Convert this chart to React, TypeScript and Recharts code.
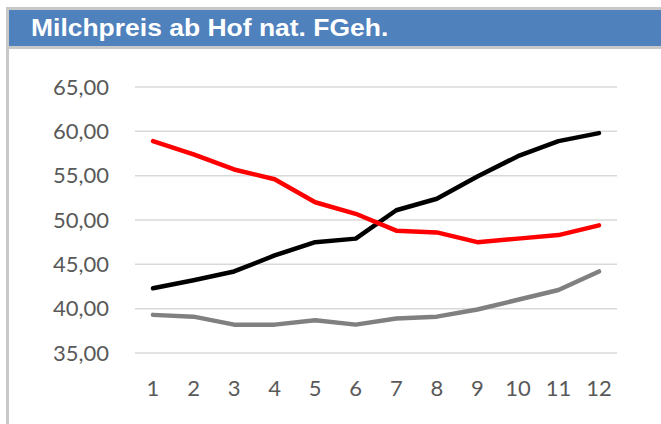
import { LineChart, Line, XAxis, YAxis, CartesianGrid } from "recharts";

const months = ["1", "2", "3", "4", "5", "6", "7", "8", "9", "10", "11", "12"];
const redSeries = [58.9, 57.4, 55.7, 54.6, 52.0, 50.7, 48.8, 48.6, 47.5, 47.9, 48.3, 49.4];
const blackSeries = [42.3, 43.2, 44.2, 46.0, 47.5, 47.9, 51.1, 52.4, 54.9, 57.2, 58.9, 59.8];
const greySeries = [39.3, 39.1, 38.2, 38.2, 38.7, 38.2, 38.9, 39.1, 39.9, 41.0, 42.1, 44.2];
const yTicks = [35, 40, 45, 50, 55, 60, 65];

const data = months.map((m, i) => ({
  month: m,
  red: redSeries[i],
  black: blackSeries[i],
  grey: greySeries[i],
}));

const fmt = (v: number) => v.toFixed(2).replace(".", ",");

export default function App() {
  return (
    <div
      style={{
        position: "fixed",
        left: 0,
        top: 0,
        width: 661,
        height: 424,
        background: "#ffffff",
        overflow: "hidden",
      }}
    >
      {/* frame + header */}
      <div
        style={{
          position: "absolute",
          left: 6,
          top: 7,
          width: 661,
          height: 424,
          borderLeft: "3px solid #c8c8c8",
          borderTop: "3px solid #c8c8c8",
        }}
      />
      <div
        style={{
          position: "absolute",
          left: 9,
          top: 10,
          width: 652,
          height: 36,
          background: "#4f81bd",
          borderBottom: "3px solid #c8c8c8",
        }}
      >
        <div
          style={{
            position: "absolute",
            left: 22,
            top: 4,
            color: "#ffffff",
            fontFamily: "'Liberation Sans', Arial, sans-serif",
            fontWeight: "bold",
            fontSize: 24.5,
            lineHeight: "28px",
            whiteSpace: "nowrap",
            transform: "scaleX(1.08)",
            transformOrigin: "left center",
          }}
        >
          Milchpreis ab Hof nat. FGeh.
        </div>
      </div>

      <div style={{ position: "absolute", left: 0, top: 0 }}>
        <LineChart
          width={661}
          height={424}
          data={data}
          margin={{ top: 87, right: 44, bottom: 0, left: 0 }}
        >
          <CartesianGrid vertical={false} stroke="#d9d9d9" strokeWidth={1.5} />
          <XAxis
            dataKey="month"
            axisLine={false}
            tickLine={false}
            tickSize={0}
            tickMargin={27}
            height={71}
            padding={{ left: 18, right: 18 }}
            interval={0}
            tick={{ fill: "#595959", fontSize: 22, fontFamily: "Lato, sans-serif" }}
          />
          <YAxis
            domain={[35, 65]}
            ticks={yTicks}
            tickFormatter={fmt}
            axisLine={false}
            tickLine={false}
            tickSize={0}
            tickMargin={26}
            width={135}
            interval={0}
            tick={{ fill: "#595959", fontSize: 22, fontFamily: "Lato, sans-serif" }}
          />
          <Line
            type="linear"
            dataKey="grey"
            stroke="#808080"
            strokeWidth={4.5}
            dot={false}
            strokeLinecap="round"
            strokeLinejoin="round"
            isAnimationActive={false}
          />
          <Line
            type="linear"
            dataKey="black"
            stroke="#000000"
            strokeWidth={4.5}
            dot={false}
            strokeLinecap="round"
            strokeLinejoin="round"
            isAnimationActive={false}
          />
          <Line
            type="linear"
            dataKey="red"
            stroke="#ff0000"
            strokeWidth={4.5}
            dot={false}
            strokeLinecap="round"
            strokeLinejoin="round"
            isAnimationActive={false}
          />
        </LineChart>
      </div>
    </div>
  );
}
